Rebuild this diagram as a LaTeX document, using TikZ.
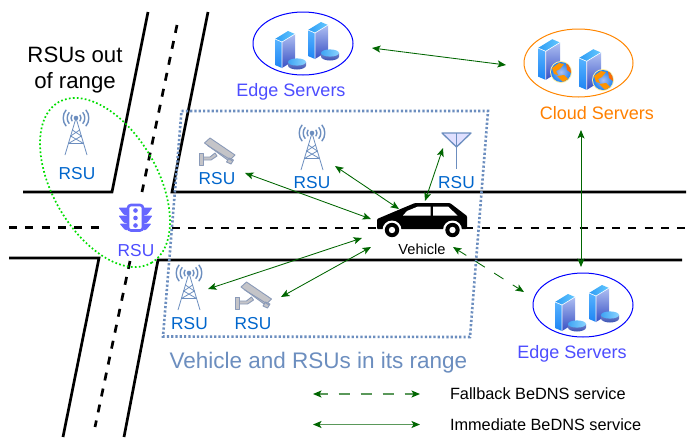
\documentclass[tikz,border=0pt]{standalone}
\usepackage{fontspec}
\setmainfont{Liberation Sans}
\usetikzlibrary{arrows.meta,shapes.geometric}
\definecolor{arrowgreen}{HTML}{006600}
\definecolor{legendgreen}{HTML}{5A985A}
\definecolor{dotblue}{HTML}{6C8EBF}
\definecolor{rsublue}{HTML}{0066CC}
\definecolor{indigo}{HTML}{4D4DFF}
\definecolor{trafficblue}{HTML}{6666FF}
\definecolor{orangetext}{HTML}{FF8000}
\definecolor{camfill}{HTML}{C4C4C8}
\definecolor{camline}{HTML}{8A9AB8}
\definecolor{srvleftA}{HTML}{58B4FF}
\definecolor{srvleftB}{HTML}{1E84F4}
\definecolor{srvfaceA}{HTML}{AEBFF2}
\definecolor{srvfaceB}{HTML}{3850C4}
\definecolor{srvtopA}{HTML}{2E9CF4}
\definecolor{srvtopB}{HTML}{64C8FF}
\definecolor{discside}{HTML}{3A52B4}
\definecolor{disctopA}{HTML}{3FA4F4}
\definecolor{disctopB}{HTML}{8AD4FF}
\tikzset{
  x=1pt,y=-1pt,
  txt/.style={inner sep=0pt,outer sep=0pt,anchor=base,font=\fontsize{#1}{#1}\selectfont},
  rsutext/.style={txt=17.3,text=rsublue},
  road/.style={line width=2.7pt,black},
  roaddash/.style={line width=2.7pt,black,dash pattern=on 8pt off 8.3pt},
  tipboth/.style={{Stealth[length=8.5pt,width=7pt,inset=2pt,color=arrowgreen]}-{Stealth[length=8.5pt,width=7pt,inset=2pt,color=arrowgreen]}},
  link/.style={line width=.85pt,arrowgreen,tipboth},
  fallback/.style={link,dash pattern=on 11pt off 11pt,dash phase=1.5pt},
  legendline/.style={line width=1.4pt,legendgreen,tipboth},
  rangeline/.style={line width=2.6pt,dotblue,dash pattern=on 2.2pt off 2.1pt},
  servering/.style={ellipse,draw,line width=1pt,inner sep=0pt,outer sep=0pt},
  pics/towericon/.style={code={
    \begin{scope}[dotblue,line width=.8pt,line join=round]
      \draw (-11,37) -- (0,0) -- (11,37);
      \draw (-3.6,12) -- (5.4,18) -- (-7.6,25.5) -- (7.6,25.5) -- (-5.4,18) -- (3.6,12);
      \fill (0,0) circle (2.3);
      \draw[line width=1.4pt]
        (140:5) arc[start angle=140,end angle=220,radius=5]
        (140:8.8) arc[start angle=140,end angle=220,radius=8.8]
        (140:12.8) arc[start angle=140,end angle=220,radius=12.8]
        (40:5) arc[start angle=40,end angle=-40,radius=5]
        (40:8.8) arc[start angle=40,end angle=-40,radius=8.8]
        (40:12.8) arc[start angle=40,end angle=-40,radius=12.8];
    \end{scope}}},
  pics/cameraicon/.style={code={
    \begin{scope}[draw=camline,fill=camfill,line width=.9pt,line join=round]
      \filldraw (5,19) -- (12,19) -- (17,15) -- (19,18) -- (13,22) -- (5,22) -- cycle;
      \filldraw (1,15) rectangle (5,27);
      \filldraw (6.5,5) -- (12,0) -- (37,17) -- (31,23) -- cycle;
      \filldraw (31,20) -- (35.5,22) -- (33,26) -- (28.5,24) -- cycle;
      \draw (9.5,7.5) -- (34.5,23);
    \end{scope}}},
  pics/servericon/.style={code={
    \shade[top color=srvleftA,bottom color=srvleftB] (0,0) -- (7,3) -- (7,29) -- (0,26) -- cycle;
    \shade[top color=srvfaceA,bottom color=srvfaceB] (7,3) -- (20,-5) -- (20,21) -- (7,29) -- cycle;
    \shade[left color=srvtopA,right color=srvtopB] (0,0) -- (13,-8) -- (20,-5) -- (7,3) -- cycle;
    \draw[white,line width=.6pt] (0,0) -- (7,3) -- (20,-5) (7,3) -- (7,29);
  }},
  pics/discicon/.style={code={
    \shade[top color=discside!70!white,bottom color=discside] (-9,0) -- (-9,3.5) arc[start angle=180,end angle=0,x radius=9,y radius=4] -- (9,0) -- cycle;
    \shade[left color=disctopA,right color=disctopB] (0,0) ellipse [x radius=9,y radius=3.6];
  }},
  pics/globeicon/.style={code={
    \fill[yellow!70!orange!35!white] (0,0) circle (11);
    \begin{scope}
      \clip (0,0) circle (10);
      \shade[inner color=srvfaceA,outer color=srvleftB] (0,0) circle (10);
      \fill[orange!85!yellow] (-9,-4) -- (-2,-9) -- (3,-8) -- (-1,-3) -- (-5,-1) -- (-3,3) -- (-7,2) -- cycle;
      \fill[orange!85!yellow] (-4,4) -- (3,3) -- (7,7) -- (2,10) -- cycle;
      \fill[orange!85!red] (5,-9) -- (10,-6) -- (10,1) -- (6,-2) -- cycle;
    \end{scope}
  }},
}
\begin{document}
\begin{tikzpicture}
\useasboundingbox (0,0) rectangle (697,437);
\fill[white] (0,0) rectangle (697,437);

% road junction
\coordinate (nwA) at (23,192); \coordinate (nwB) at (112,192); \coordinate (nwC) at (148,12);
\coordinate (neA) at (208,12); \coordinate (neB) at (172,192); \coordinate (neC) at (686,192);
\coordinate (swA) at (9,258); \coordinate (swB) at (99,258); \coordinate (swC) at (63,437);
\coordinate (seA) at (682,260); \coordinate (seB) at (158,260); \coordinate (seC) at (124,437);
\draw[road] (nwA) -- (nwB) -- (nwC);
\draw[road] (neA) -- (neB) -- (neC);
\draw[road] (swA) -- (swB) -- (swC);
\draw[road] (seA) -- (seB) -- (seC);
\coordinate (cl1) at (177,25); \coordinate (cl2) at (142,192);
\coordinate (cl3) at (130,261); \coordinate (cl4) at (95,427);
\coordinate (cl5) at (9,227.5); \coordinate (cl6) at (99,227.5);
\coordinate (cl7) at (172,228); \coordinate (cl8) at (686,228);
\draw[roaddash] (cl1) -- (cl2);
\draw[roaddash] (cl3) -- (cl4);
\draw[roaddash] (cl5) -- (cl6);
\draw[roaddash] (cl7) -- (cl8);

% vehicle range
\coordinate (rg1) at (181.5,111); \coordinate (rg2) at (488,111);
\coordinate (rg3) at (470,337); \coordinate (rg4) at (163,336.5);
\draw[rangeline] (rg1) -- (rg2) -- (rg3) -- (rg4) -- cycle;

% out of range ellipse
\node[ellipse,draw=green!87!black,line width=1.7pt,dash pattern=on 1.7pt off 2.3pt,
      minimum width=185.6pt,minimum height=105pt,inner sep=0pt,rotate=-60] (outrange) at (105,182.5) {};

% servers
\node[servering,draw=blue,minimum width=100pt,minimum height=63pt] (edgeA) at (303,43.5) {};
\node[servering,draw=orange!95!yellow,minimum width=109pt,minimum height=68pt] (cloud) at (578.5,63) {};
\node[servering,draw=blue,minimum width=100pt,minimum height=64pt] (edgeB) at (583,305) {};
\pic at (275,39) {servericon}; \pic at (297,62) {discicon};
\pic at (308,30) {servericon}; \pic at (330,53) {discicon};
\pic at (555,302) {servericon}; \pic at (577,324) {discicon};
\pic at (589,293) {servericon}; \pic at (610,315) {discicon};
\pic[scale=1.1] at (538,48) {servericon}; \pic at (561,72) {globeicon};
\pic[scale=1.1] at (579,58) {servericon}; \pic at (603,80) {globeicon};

% road side units
\pic at (76,118) {towericon};
\pic at (312,133) {towericon};
\pic at (189,273) {towericon};
\pic at (198,138) {cameraicon};
\pic at (234.5,282) {cameraicon};
\draw[dotblue,line width=1.3pt,fill=blue!12,line join=round] (442,133) -- (471,133) -- (456.5,147) -- cycle;
\coordinate (antTop) at (456.5,133); \coordinate (antBase) at (456.5,169);
\draw[dotblue,line width=1.3pt] (antTop) -- (antBase);

% traffic light
\begin{scope}[trafficblue]
  \fill[rounded corners=1pt] (118.5,207.5) -- (128,207.5) -- (128,215) -- (124,215) -- cycle;
  \fill[rounded corners=1pt] (118.5,215.5) -- (128,215.5) -- (128,223) -- (124,223) -- cycle;
  \fill[rounded corners=1pt] (119.5,223.5) -- (128,223.5) -- (128,230) -- (125,230) -- cycle;
  \fill[rounded corners=1pt] (152.5,207.5) -- (143,207.5) -- (143,215) -- (147,215) -- cycle;
  \fill[rounded corners=1pt] (152.5,215.5) -- (143,215.5) -- (143,223) -- (147,223) -- cycle;
  \fill[rounded corners=1pt] (151.5,223.5) -- (143,223.5) -- (143,230) -- (146,230) -- cycle;
  \draw[line width=2.6pt,rounded corners=3pt,fill=white] (128,205) rectangle (143,230.5);
  \fill (135.5,210.5) circle (2.3) (135.5,218) circle (2.3) (135.5,225.5) circle (2.3);
\end{scope}

% vehicle
\fill[black,rounded corners=1pt] (377,219) -- (403,208) -- (415,203) -- (450,203) -- (467,216) -- (467,229) -- (377,229) -- cycle;
\fill[white] (407,211) -- (418,206.5) -- (430.5,206.5) -- (430.5,215.5) -- (403,215.5) -- cycle;
\fill[white] (433,206.5) -- (448,206.5) -- (457.5,215.5) -- (433,215.5) -- cycle;
\fill[white] (392,230) circle (9.5) (452.5,230) circle (9.5);
\fill[black] (392,230) circle (7.2) (452.5,230) circle (7.2);
\fill[white] (392,230) circle (3.2) (452.5,230) circle (3.2);

% labels
\node[txt=22.2,text=black] (outA) at (75,62) {RSUs out};
\node[txt=22.2,text=black] (outB) at (75,88) {of range};
\node[rsutext] (rsuA) at (77,179) {RSU};
\node[rsutext] (rsuB) at (217,184) {RSU};
\node[rsutext] (rsuC) at (312,188) {RSU};
\node[rsutext] (rsuD) at (456.5,188) {RSU};
\node[rsutext,text=indigo] (rsuE) at (136,256) {RSU};
\node[rsutext] (rsuF) at (189.5,329) {RSU};
\node[rsutext] (rsuG) at (253,329) {RSU};
\node[txt=18,text=indigo] (edgeAl) at (291,96) {Edge Servers};
\node[txt=18,text=indigo] (edgeBl) at (572,358) {Edge Servers};
\node[txt=18,text=orangetext] (cloudl) at (597,119) {Cloud Servers};
\node[txt=22.5,text=dotblue] (rangel) at (318.5,368) {Vehicle and RSUs in its range};
\node[txt=14.6,text=black] (vehl) at (422,254) {Vehicle};
\node[txt=16.3,text=black,anchor=base west] (legA) at (450,399) {Fallback BeDNS service};
\node[txt=16.3,text=black,anchor=base west] (legB) at (450,430) {Immediate BeDNS service};

% connectors
\coordinate (a1) at (372,48); \coordinate (a2) at (506,65);
\coordinate (b1) at (581,130); \coordinate (b2) at (581,267);
\coordinate (c1) at (443,148); \coordinate (c2) at (425,201);
\coordinate (d1) at (245,173); \coordinate (d2) at (371,219);
\coordinate (e1) at (335,166); \coordinate (e2) at (399,209);
\coordinate (f1) at (208,289); \coordinate (f2) at (362,238);
\coordinate (g1) at (281,297); \coordinate (g2) at (371,247);
\coordinate (h1) at (453,247); \coordinate (h2) at (524,292);
\coordinate (i1) at (313,394); \coordinate (i2) at (420,394);
\coordinate (j1) at (313,424.5); \coordinate (j2) at (420,424.5);
\draw[link] (a1) -- (a2);
\draw[link] (b1) -- (b2);
\draw[link] (c1) -- (c2);
\draw[link] (d1) -- (d2);
\draw[link] (e1) -- (e2);
\draw[link] (f1) -- (f2);
\draw[link] (g1) -- (g2);
\draw[fallback] (h1) -- (h2);
\draw[legendline,dash pattern=on 11pt off 11pt,dash phase=2.5pt] (i1) -- (i2);
\draw[legendline] (j1) -- (j2);
\end{tikzpicture}
\end{document}
